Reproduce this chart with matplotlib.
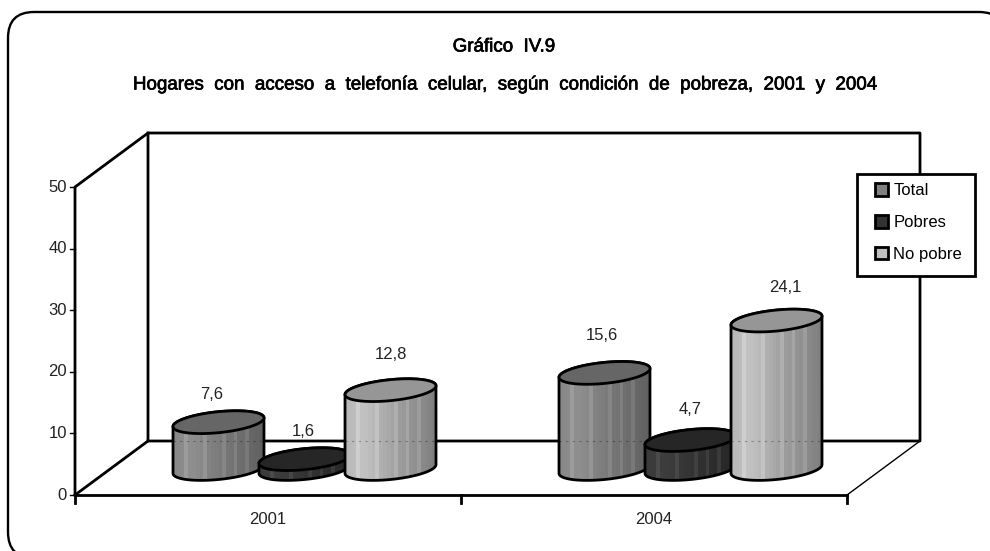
import numpy as np
import matplotlib
matplotlib.use('AGG')
import matplotlib.pyplot as plt
import matplotlib.patheffects as pe
from matplotlib.patches import FancyBboxPatch, Patch, Polygon, Rectangle

years = ['2001', '2004']
series = ['Total', 'Pobres', 'No pobre']
total = [7.6, 15.6]
pobres = [1.6, 4.7]
no_pobre = [12.8, 24.1]
yticks = [0, 10, 20, 30, 40, 50]

title1 = 'Gráfico  IV.9'
title2 = 'Hogares  con  acceso  a  telefonía  celular,  según  condición  de  pobreza,  2001  y  2004'

# tones per series: shaded side, light side, top of the cylinder, legend box
tones = [(0.38, 0.56, '#666666', '#808080'),
         (0.15, 0.24, '#262626', '#333333'),
         (0.50, 0.76, '#969696', '#c0c0c0')]
# label offsets from the top of each cylinder, pixels
label_dx = [-7, -1, 0, -3, 0, 9]
label_dy = [27, 27, 35, 36, 30, 32]

W, H = 990, 551
X0, Y0 = 75, 495           # pixel position of the front corner (0, 0)
PX_X, PX_Y = 386, 6.16     # pixels per category, pixels per y unit
DX, DY = 73 / PX_X, 54 / PX_Y  # depth of the 3d box in data units
BAR_R = 45.5 / PX_X        # cylinder half width
BAR_STEP = 86 / PX_X
ELL_B = 10.5 / PX_Y
LW = 2.0
TXT = 12

plt.rcParams['font.family'] = ['Liberation Sans', 'DejaVu Sans']
fig = plt.figure(figsize=(W / 100, H / 100), dpi=100)
ax = fig.add_axes([0, 0, 1, 1])
ax.set_xlim(-X0 / PX_X, (W - X0) / PX_X)
ax.set_ylim((Y0 - H) / PX_Y, Y0 / PX_Y)
ax.axis('off')


def px(x, y):
    return (x - X0) / PX_X, (Y0 - y) / PX_Y


# rounded frame, it runs off the right and bottom of the picture
fig.add_artist(FancyBboxPatch((8 + 26, H - 558 + 26), 997 - 52, 546 - 52, boxstyle='round,pad=26',
                              transform=None, fc='white', ec='black', lw=1.7, zorder=-1))

# the 3d box
top = yticks[-1]
line = dict(color='black', lw=LW, solid_capstyle='projecting')
ax.plot([0, DX, DX], [0, DY, DY + top], **line)
ax.plot([0, 0, DX, 2 + DX, 2 + DX, DX], [0, top, DY + top, DY + top, DY, DY], **line)
ax.plot([0, 2], [0, 0], **line)
ax.plot([2, 2 + DX], [0, DY], color='black', lw=1)
for v in yticks:
    ax.plot([-5 / PX_X, 0], [v, v], color='black', lw=1)
    ax.text(-8 / PX_X, v, str(v), ha='right', va='center', fontsize=TXT, color='#222222')
for x in [0, 1, 2]:
    ax.plot([x, x], [0, -8 / PX_Y], color='black', lw=LW)
for i, year in enumerate(years):
    ax.text(i + 0.5, -24 / PX_Y, year, ha='center', va='center', fontsize=TXT, color='#222222')


def draw_cylinder(cx, value, tone, z):
    dark, light, top_color, _ = tone
    base = DY / 2 - 1 / PX_Y
    t = np.linspace(0, 2 * np.pi, 200)
    ang = np.radians(5.5)
    ex = BAR_R * np.cos(t)
    ey = ELL_B * np.sin(t) + (BAR_R * PX_X * np.cos(t) * np.tan(ang)) / PX_Y
    # body outline: lower half of base ellipse, upper half of top ellipse
    low = ey[np.sin(t) <= 0]
    low_x = ex[np.sin(t) <= 0]
    s = np.argsort(low_x)
    low_x, low = low_x[s], low[s]
    hi = ey[np.sin(t) > 0]
    hi_x = ex[np.sin(t) > 0]
    s = np.argsort(hi_x)
    hi_x, hi = hi_x[s], hi[s]
    path_x = np.r_[low_x, hi_x[::-1]] + cx
    path_y = np.r_[low + base, hi[::-1] + base + value]
    ax.add_patch(Polygon(np.c_[path_x, path_y], closed=True, fc='none', ec='black', lw=LW, zorder=z + 0.2))
    # vertical bands of shading, clipped to the body
    edges = np.linspace(cx - BAR_R, cx + BAR_R, 25)
    shade = np.interp(np.linspace(0, 1, 24), [0, 0.2, 0.55, 1], [light * 0.95, light, (light + dark) / 2, dark])
    shade[[3, 8, 13, 16, 19]] += 0.06
    ys = [path_y.min(), path_y.max()]
    mesh = ax.pcolormesh(edges, ys, np.array([shade]), cmap='gray', vmin=0, vmax=1, zorder=z, shading='flat')
    mesh.set_clip_path(Polygon(np.c_[path_x, path_y], closed=True, transform=ax.transData))
    # faint back wall line showing through the cylinder
    if value + base > DY:
        ax.plot([cx - BAR_R, cx + BAR_R], [DY, DY], color='black', lw=0.8, ls=(0, (2, 4)), alpha=0.3, zorder=z + 0.1)
    ax.add_patch(Polygon(np.c_[cx + ex, base + value + ey], closed=True, fc=top_color, ec='black', lw=LW, zorder=z + 0.3))


values = [total, pobres, no_pobre]
for i in range(len(years)):
    for j in range(len(series)):
        cx = i + 0.5 + DX / 2 + (j - 1) * BAR_STEP
        v = values[j][i]
        draw_cylinder(cx, v, tones[j], 10 + j)
        n = i * 3 + j
        ax.text(cx + label_dx[n] / PX_X, DY / 2 + v + label_dy[n] / PX_Y, f'{v}'.replace('.', ','),
                ha='center', va='center', fontsize=TXT, color='#222222', zorder=30)

# legend: own box, the legend entries sit inside without a frame
ax.add_patch(Rectangle(px(857, 276), 118 / PX_X, 102 / PX_Y, fc='white', ec='black', lw=LW, zorder=39))
handles = [Patch(fc=tones[j][3], ec='black', lw=LW, label=series[j]) for j in range(3)]
leg = ax.legend(handles=handles, loc='upper left', bbox_to_anchor=px(875, 183), bbox_transform=ax.transData,
                fontsize=TXT, frameon=False, handlelength=0.8, handleheight=0.8, handletextpad=0.3,
                labelspacing=1.0, borderpad=0, borderaxespad=0)
leg.set_zorder(40)

# titles, thin stroke for the heavy look of the original
stroke = [pe.withStroke(linewidth=0.5, foreground='black')]
fig.text(504 / W, 1 - 47 / H, title1, ha='center', va='center', fontsize=13.5, color='black', path_effects=stroke)
fig.text(505 / W, 1 - 85 / H, title2, ha='center', va='center', fontsize=13.5, color='black', path_effects=stroke)

fig.savefig('out.png', dpi=100)
